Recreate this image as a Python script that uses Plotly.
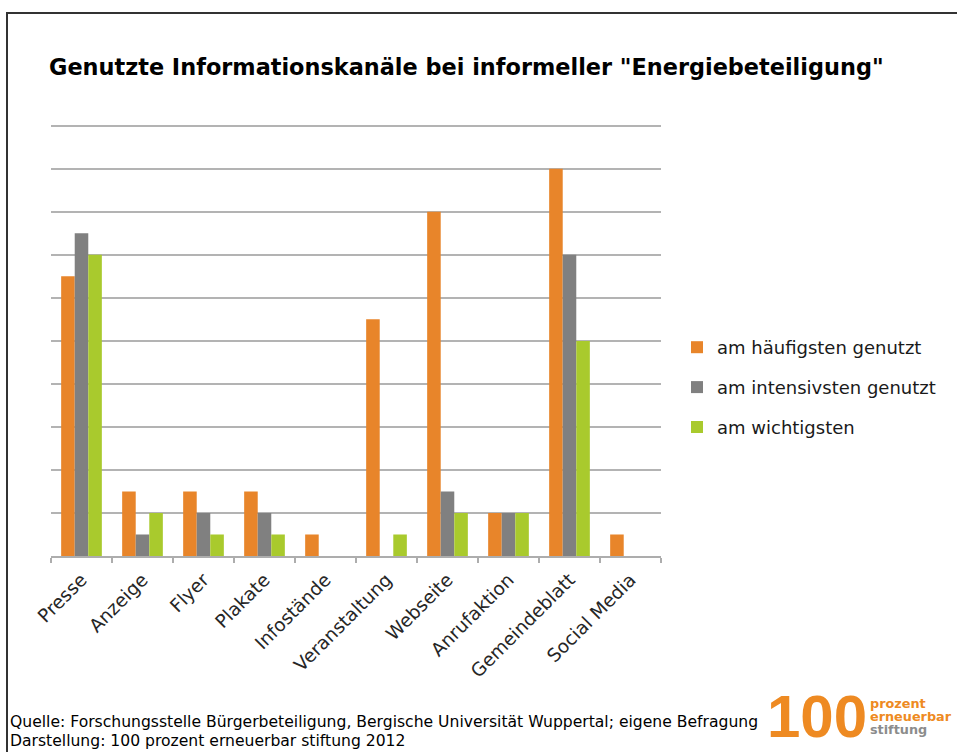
import plotly.graph_objects as go

categories = ["Presse", "Anzeige", "Flyer", "Plakate", "Infostände", "Veranstaltung",
              "Webseite", "Anrufaktion", "Gemeindeblatt", "Social Media"]
haeufigsten = [13, 3, 3, 3, 1, 11, 16, 2, 18, 1]
intensivsten = [15, 1, 2, 2, 0, 0, 3, 2, 14, 0]
wichtigsten = [14, 2, 1, 1, 0, 1, 2, 2, 10, 0]
series_names = ["am häufigsten genutzt", "am intensivsten genutzt", "am wichtigsten"]
colors = ["#E8852A", "#808080", "#A9CA2D"]

W, H = 957, 752
L, R, T, B = 51, 661, 115, 556  # plot area in px (value 20 sits at y=126)


def px(x):
    return (x - L) / (R - L)


def py(y):
    return (B - y) / (B - T)


fig = go.Figure()
for i, (name, vals) in enumerate(zip(series_names, [haeufigsten, intensivsten, wichtigsten])):
    fig.add_trace(go.Bar(x=categories, y=vals, name=name, marker_color=colors[i],
                         marker_line_width=0, legendgroup=f"g{i}"))

font_family = "DejaVu Sans, Liberation Sans, sans-serif"
logo_family = "Liberation Sans, Arial, sans-serif"

fig.update_layout(
    width=W, height=H,
    margin=dict(l=L, r=W - R, t=T, b=H - B, pad=0),
    paper_bgcolor="white", plot_bgcolor="white",
    barmode="group", bargap=0.333, bargroupgap=0,
    font=dict(family=font_family, color="#333333"),
    showlegend=True,
    legend=dict(x=px(677), xanchor="left", y=py(329), yanchor="top",
                font=dict(size=18, color="#1A1A1A", family=font_family),
                traceorder="grouped", tracegroupgap=13.5,
                bgcolor="rgba(0,0,0,0)"),
    xaxis=dict(showline=True, linecolor="#ADADAD", linewidth=1.5,
               ticks="outside", tickson="boundaries", ticklen=5, tickcolor="#ADADAD", tickwidth=1.5,
               tickangle=-45, ticklabelstandoff=4,
               tickfont=dict(size=18.5, color="#262626", family=font_family),
               showgrid=False),
    yaxis=dict(range=[0, 20.5], dtick=2, showgrid=True, gridcolor="#B3B3B3", gridwidth=1.5,
               showticklabels=False, zeroline=False, showline=False, ticks=""),
)

# frame
fig.add_shape(type="rect", xref="paper", yref="paper",
              x0=px(7), x1=px(970), y0=py(770), y1=py(13),
              line=dict(color="#333333", width=2), fillcolor="rgba(0,0,0,0)", layer="below")

annotations = [
    dict(text='<b>Genutzte Informationskanäle bei informeller "Energiebeteiligung"</b>',
         x=px(47), y=py(67), xanchor="left", yanchor="middle",
         font=dict(size=22.4, color="#000000", family=font_family)),
    dict(text="Quelle: Forschungsstelle Bürgerbeteiligung, Bergische Universität Wuppertal; eigene Befragung",
         x=px(8), y=py(722), xanchor="left", yanchor="middle",
         font=dict(size=15.6, color="#000000", family=font_family)),
    dict(text="Darstellung: 100 prozent erneuerbar stiftung 2012",
         x=px(8), y=py(741), xanchor="left", yanchor="middle",
         font=dict(size=15.6, color="#000000", family=font_family)),
    dict(text="<b>100</b>", x=px(869), y=py(716), xanchor="right", yanchor="middle",
         font=dict(size=60, color="#EE8A22", family=logo_family)),
    dict(text="<b>prozent</b>", x=px(869), y=py(703.5), xanchor="left", yanchor="middle",
         borderpad=0, font=dict(size=12.8, color="#EE8A22", family=font_family)),
    dict(text="<b>erneuerbar</b>", x=px(869), y=py(716.5), xanchor="left", yanchor="middle",
         borderpad=0, font=dict(size=12.8, color="#EE8A22", family=font_family)),
    dict(text="<b>stiftung</b>", x=px(869), y=py(729.5), xanchor="left", yanchor="middle",
         borderpad=0, font=dict(size=12.8, color="#8C8C8C", family=font_family)),
]
for a in annotations:
    fig.add_annotation(xref="paper", yref="paper", showarrow=False, **a)

fig.write_html("out.html", config={"displayModeBar": False},
               post_script="document.body.style.margin='0';")
